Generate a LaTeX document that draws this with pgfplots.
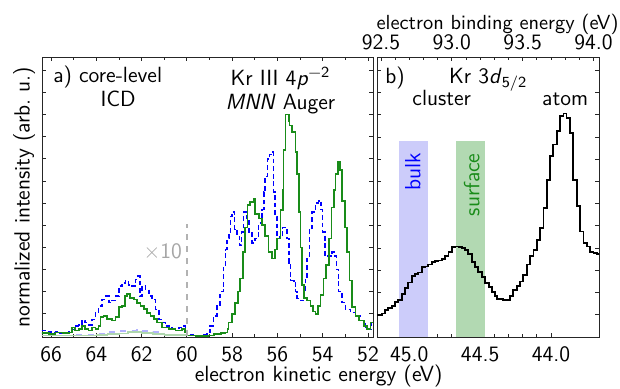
\documentclass[border=0pt]{standalone}
\usepackage{fontspec}
\usepackage{pgfplots}
\pgfplotsset{compat=1.18}
\renewcommand{\familydefault}{\sfdefault}
\definecolor{dgreen}{rgb}{0.1,0.55,0.1}
\definecolor{bulkc}{rgb}{0.8,0.8,0.98}
\definecolor{surfc}{rgb}{0.7,0.85,0.7}
\pgfplotstableread{
x y
66.45 0.24
66.2 0.2
66.0 0.15
65.8 0.18
65.6 0.12
65.4 0.15
65.2 0.2
65.08 0.3
64.93 0.45
64.78 0.5
64.63 0.7
64.49 0.6
64.34 0.5
64.19 0.75
64.04 1.05
63.9 1.35
63.75 1.65
63.6 1.8
63.45 1.5
63.3 1.6
63.16 1.8
63.0 2.25
62.86 2.4
62.72 2.5
62.57 2.3
62.42 2.25
62.27 2.55
62.17 2.7
62.08 1.8
61.98 2.25
61.83 2.1
61.68 1.8
61.54 1.65
61.39 1.2
61.24 0.75
61.09 0.6
60.95 0.45
60.8 0.3
60.65 0.38
60.5 0.24
60.35 0.38
60.21 0.45
60.07 0.38
60.0 0.05
59.8 0.03
59.6 0.02
59.3 0.05
59.12 0.15
58.97 0.45
58.82 0.9
58.67 1.35
58.53 2.0
58.38 3.2
58.3 3.9
58.23 4.4
58.15 4.7
58.08 5.4
58.0 5.6
57.89 4.8
57.78 4.5
57.67 4.1
57.58 4.7
57.5 5.6
57.35 5.3
57.25 4.7
57.12 4.2
57.0 4.4
56.83 5.1
56.68 5.7
56.6 6.5
56.54 7.2
56.45 8.0
56.36 8.2
56.24 8.3
56.17 6.5
56.1 5.4
56.02 4.4
55.9 4.5
55.77 4.9
55.65 4.9
55.57 4.4
55.5 3.3
55.43 2.5
55.28 2.4
55.2 2.0
55.13 1.7
54.99 1.6
54.84 2.0
54.77 2.6
54.69 3.6
54.59 4.8
54.47 5.6
54.32 6.0
54.18 6.1
54.08 5.7
54.0 4.7
53.91 3.6
53.76 3.6
53.58 3.8
53.48 3.6
53.4 3.0
53.3 2.0
53.14 1.5
53.0 1.2
52.77 1.05
52.55 0.9
52.33 0.7
52.11 0.3
51.95 0.3
51.85 0.6
51.7 0.6
}\bluedata
\pgfplotstableread{
x y
66.45 0.13
66.1 0.1
65.8 0.15
65.5 0.12
65.2 0.15
65.08 0.38
64.93 0.24
64.78 0.3
64.63 0.45
64.49 0.3
64.34 0.24
64.19 0.38
64.04 0.3
63.9 0.45
63.82 0.84
63.68 0.9
63.53 0.77
63.3 0.7
63.16 0.84
63.0 1.3
62.86 1.35
62.72 1.8
62.65 1.9
62.5 1.7
62.35 1.65
62.2 1.5
62.05 1.35
61.9 1.2
61.76 1.05
61.61 0.9
61.46 0.75
61.31 0.6
61.09 0.38
60.8 0.3
60.5 0.24
60.21 0.3
60.07 0.15
60.0 0.02
59.6 0.0
59.06 0.02
58.8 0.08
58.5 0.12
58.3 0.15
58.2 0.3
58.16 0.6
58.0 1.0
57.86 1.5
57.75 2.0
57.64 2.6
57.52 3.8
57.42 4.9
57.32 5.9
57.2 6.05
57.05 6.2
56.98 5.5
56.83 5.3
56.68 5.0
56.54 4.5
56.39 3.8
56.24 3.5
56.12 3.9
56.02 4.4
55.87 5.7
55.77 6.6
55.73 8.4
55.65 10.0
55.5 9.7
55.47 9.5
55.35 9.2
55.2 8.3
55.14 7.3
55.06 5.6
54.98 4.0
54.91 2.3
54.84 1.7
54.69 1.6
54.54 1.35
54.42 1.1
54.32 1.0
54.22 1.35
54.1 1.85
53.96 2.6
53.86 3.2
53.73 4.4
53.61 5.8
53.51 6.6
53.44 7.3
53.33 7.85
53.25 7.5
53.14 6.1
53.03 4.9
52.92 3.8
52.82 2.5
52.7 1.3
52.55 0.9
52.4 0.7
52.19 0.45
52.04 0.3
51.89 0.6
51.7 0.75
}\greendata
\pgfplotstableread{
x y
66.45 0.03
65.5 0.02
65.0 0.04
64.5 0.06
64.0 0.1
63.5 0.17
63.0 0.22
62.5 0.25
62.2 0.27
62.0 0.22
61.5 0.17
61.0 0.07
60.5 0.03
60.0 0.03
}\faintblue
\pgfplotstableread{
x y
66.45 0.01
65.0 0.03
64.0 0.04
63.5 0.08
63.0 0.12
62.6 0.18
62.0 0.13
61.5 0.08
61.0 0.04
60.0 0.02
}\faintgreen
\pgfplotstableread{
x y
45.24 0.99
45.223 0.99
45.195 1.06
45.17 1.2
45.148 1.3
45.124 1.41
45.1 1.56
45.078 1.67
45.054 1.94
45.03 2.2
45.007 2.45
44.983 2.76
44.96 2.85
44.936 2.9
44.912 3.15
44.889 3.17
44.866 3.26
44.842 3.37
44.818 3.41
44.795 3.44
44.771 3.51
44.746 3.66
44.723 3.81
44.7 4.04
44.677 4.07
44.653 4.04
44.63 4.01
44.607 3.9
44.583 3.72
44.56 3.37
44.536 3.15
44.513 2.93
44.489 2.7
44.465 2.43
44.44 2.25
44.418 2.03
44.395 1.83
44.383 1.7
44.36 1.7
44.336 1.67
44.31 1.67
44.289 1.83
44.266 2.13
44.242 2.28
44.218 2.5
44.195 2.8
44.17 3.26
44.148 3.63
44.124 3.93
44.1 4.38
44.077 4.9
44.053 5.8
44.03 7.08
44.006 8.13
43.983 8.66
43.96 9.26
43.936 9.94
43.912 10.06
43.89 9.87
43.865 9.19
43.842 7.08
43.818 5.88
43.795 4.75
43.77 4.22
43.748 4.07
43.724 3.84
43.7 3.77
43.677 3.74
43.65 3.74
}\kratom
\begin{document}
\begin{tikzpicture}[font=\fontsize{11}{13}\selectfont]
\pgfplotsset{
  common/.style={scale only axis, height=140pt, ymin=-0.05, ymax=12.6,
    ytick={1,...,12}, yticklabels={},
    major tick length=2.2pt, minor tick length=1.5pt,
    tick style={black!85, line width=0.4pt}, axis line style={black!85},
    /pgf/number format/assume math mode=true}
}
\begin{axis}[common, at={(0pt,0pt)}, anchor=south west, width=165.5pt,
  x dir=reverse, xmin=51.78, xmax=66.4, xtick={52,54,...,66}, minor x tick num=1,
  xticklabel style={yshift=-1.5pt},
  xlabel={electron kinetic energy (eV)},
  xlabel style={at={(axis description cs:0.8357,-0.139)}, anchor=center},
  ylabel={normalized intensity (arb.\ u.)},
  ylabel style={at={(axis description cs:-0.054,0.5)}, anchor=center}]
\addplot[const plot, blue!30, dashed, line width=0.7pt] table {\faintblue};
\addplot[const plot, dgreen!35, line width=0.7pt] table {\faintgreen};
\addplot[const plot, blue, dash pattern=on 2.4pt off 1.4pt, line width=0.75pt] table {\bluedata};
\addplot[const plot, dgreen, line width=0.85pt] table {\greendata};
\addplot[gray!60, dashed, line width=0.75pt] coordinates {(60,0) (60,5.05)};
\node[anchor=base west, inner sep=0pt] at (axis cs:65.92,11.43) {a) core-level};
\node[anchor=base] at (axis cs:63.04,10.37) {ICD};
\node[anchor=base] at (axis cs:55.87,11.3) {Kr III 4\textit{p}\textsuperscript{\textminus2}};
\node[anchor=base] at (axis cs:55.87,10.22) {\textit{MNN} Auger};
\node[anchor=east, text=gray!70, inner sep=0pt] at (axis cs:60.2,3.8) {×10};
\end{axis}
\begin{axis}[common, at={(167.5pt,0pt)}, anchor=south west, width=111pt, ymin=0,
  x dir=reverse, xmin=43.661, xmax=45.228, xtick={44.0,44.5,45.0}, minor x tick num=4,
  xtick pos=bottom,
  xticklabel style={yshift=-1.5pt, /pgf/number format/.cd, fixed, fixed zerofill, precision=1}]
\addplot[draw=none, fill=bulkc] coordinates {(45.073,0) (45.073,8.83) (44.866,8.83) (44.866,0)} -- cycle;
\addplot[draw=none, fill=surfc] coordinates {(44.672,0) (44.672,8.83) (44.465,8.83) (44.465,0)} -- cycle;
\addplot[const plot, black, line width=0.9pt] table {\kratom};
\node[anchor=base west, inner sep=0pt] at (axis cs:45.172,11.43) {b)};
\node[anchor=base] at (axis cs:44.443,11.43) {Kr 3\textit{d}\textsubscript{5/2}};
\node[anchor=base] at (axis cs:44.771,10.4) {cluster};
\node[anchor=base] at (axis cs:43.90,10.4) {atom};
\node[rotate=90, text=blue] at (axis cs:44.975,7.42) {bulk};
\node[rotate=90, text=dgreen] at (axis cs:44.56,6.85) {surface};
\end{axis}
\begin{axis}[scale only axis, at={(167.5pt,0pt)}, anchor=south west, width=111pt, height=140pt,
  xmin=92.472, xmax=94.039, ymin=0, ymax=1, axis x line*=top, axis y line=none,
  xtick={92.5,93.0,93.5,94.0}, minor x tick num=4,
  major tick length=2.2pt, minor tick length=1.5pt,
  tick style={black!85, line width=0.4pt}, axis line style={black!85},
  /pgf/number format/assume math mode=true,
  xticklabel style={yshift=0pt, /pgf/number format/.cd, fixed, fixed zerofill, precision=1},
  xlabel={electron binding energy (eV)},
  xlabel style={at={(axis description cs:0.543,1.118)}, anchor=center, inner sep=0pt, font=\fontsize{10.2}{12}\selectfont}]
\addplot[draw=none] coordinates {(93,0.5)};
\end{axis}
\pgfresetboundingbox
\path[use as bounding box] (-21pt,-25.5pt) rectangle (289pt,168.5pt);
\end{tikzpicture}
\end{document}
